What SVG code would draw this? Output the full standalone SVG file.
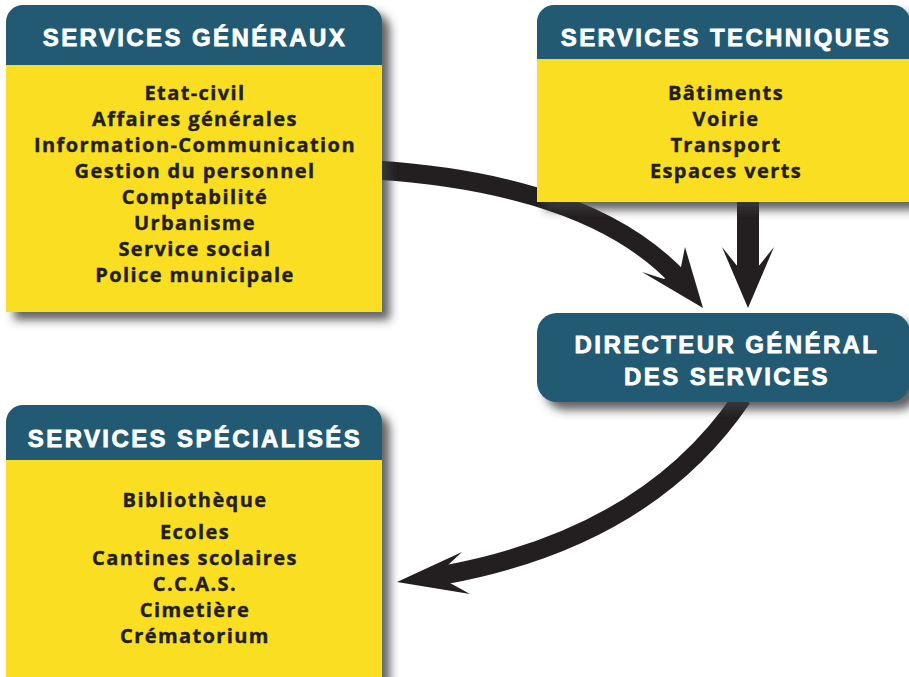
<svg xmlns="http://www.w3.org/2000/svg" width="909" height="677" viewBox="0 0 909 677">
<defs>
<filter id="sh" x="-10%" y="-10%" width="130%" height="130%">
<feDropShadow dx="8" dy="8" stdDeviation="5" flood-color="#3a3a40" flood-opacity="0.8"/>
</filter>
<style>
.hd{fill:#225a73}
.bd{fill:#f9de22}
.ht{font-family:"Liberation Sans",Arial,sans-serif;font-weight:700;font-size:24px;fill:#ffffff;stroke:#ffffff;stroke-width:0.8px;text-anchor:middle;letter-spacing:2.4px}
.bt{font-family:"Open Sans","DejaVu Sans",sans-serif;font-weight:700;font-size:20px;fill:#231f20;stroke:#231f20;stroke-width:0.4px;text-anchor:middle;letter-spacing:1.4px}
.ar{fill:none;stroke:#231f20;stroke-width:19}
.ah{fill:#231f20}
</style>
</defs>
<rect width="909" height="677" fill="#ffffff"/>
<g id="connectors">
<path class="ar" d="M375,170 C470,176 605,198 680,280"/>
<polygon class="ah" points="703,308 642,272 664,279 681,267 685,247"/>
<rect x="737" y="195" width="22" height="75" fill="#231f20"/>
<polygon class="ah" points="748,308 722,247 738,267 758,267 774,247"/>
<path class="ar" d="M742,398 C680,490 580,550 444,575"/>
<polygon class="ah" points="397,582 462,552 448,565 450,583 470,594"/>
</g>
<g id="services-generaux">
<g filter="url(#sh)">
<path class="hd" d="M6,22 A17,17 0 0 1 23,5 H365 A17,17 0 0 1 382,22 V65 H6 Z"/>
<rect class="bd" x="6" y="65" width="376" height="247"/>
</g>
<text class="ht" x="195" y="46">SERVICES GÉNÉRAUX</text>
<text class="bt" x="195" y="100">Etat-civil</text>
<text class="bt" x="195" y="126">Affaires générales</text>
<text class="bt" x="195" y="152">Information-Communication</text>
<text class="bt" x="195" y="178">Gestion du personnel</text>
<text class="bt" x="195" y="204">Comptabilité</text>
<text class="bt" x="195" y="230">Urbanisme</text>
<text class="bt" x="195" y="256">Service social</text>
<text class="bt" x="195" y="282">Police municipale</text>
</g>
<g id="services-techniques">
<g filter="url(#sh)">
<path class="hd" d="M537,22 A17,17 0 0 1 554,5 H893 A17,17 0 0 1 910,22 V59 H537 Z"/>
<rect class="bd" x="537" y="59" width="373" height="143"/>
</g>
<text class="ht" x="726" y="46">SERVICES TECHNIQUES</text>
<text class="bt" x="726" y="100">Bâtiments</text>
<text class="bt" x="726" y="126">Voirie</text>
<text class="bt" x="726" y="152">Transport</text>
<text class="bt" x="726" y="178">Espaces verts</text>
</g>
<g id="directeur">
<rect class="hd" x="537" y="313" width="373" height="89" rx="20" filter="url(#sh)"/>
<text class="ht" x="727" y="353">DIRECTEUR GÉNÉRAL</text>
<text class="ht" x="727" y="385">DES SERVICES</text>
</g>
<g id="services-specialises">
<g filter="url(#sh)">
<path class="hd" d="M6,422 A17,17 0 0 1 23,405 H365 A17,17 0 0 1 382,422 V460 H6 Z"/>
<rect class="bd" x="6" y="460" width="376" height="230"/>
</g>
<text class="ht" x="195" y="447">SERVICES SPÉCIALISÉS</text>
<text class="bt" x="195" y="507">Bibliothèque</text>
<text class="bt" x="195" y="539">Ecoles</text>
<text class="bt" x="195" y="565">Cantines scolaires</text>
<text class="bt" x="195" y="591">C.C.A.S.</text>
<text class="bt" x="195" y="617">Cimetière</text>
<text class="bt" x="195" y="643">Crématorium</text>
</g>
</svg>
